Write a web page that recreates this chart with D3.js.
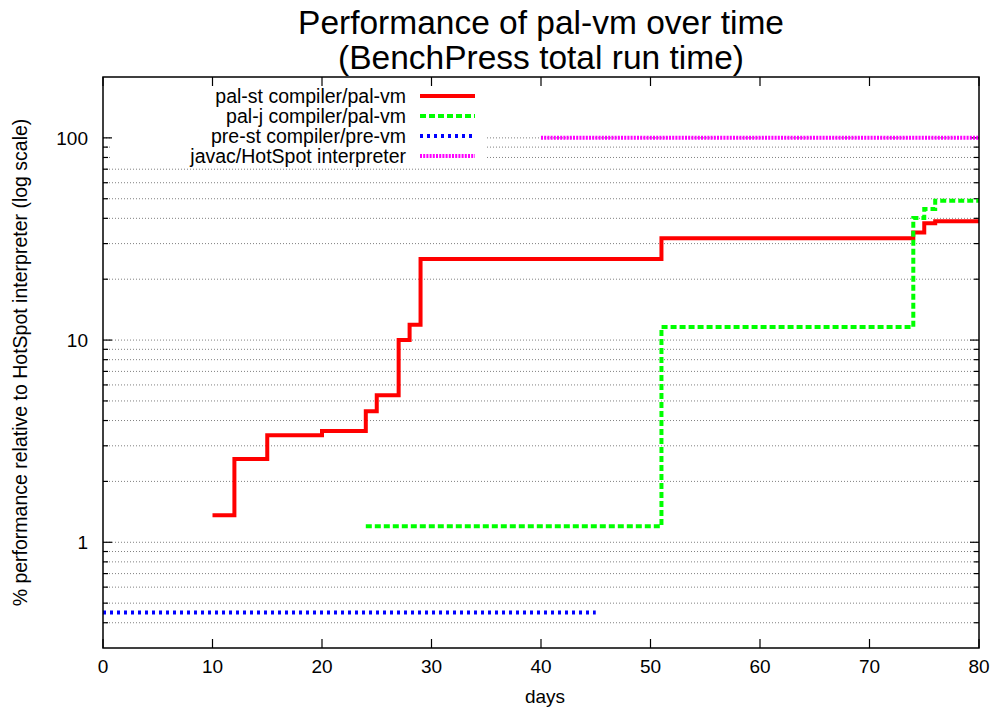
<!DOCTYPE html>
<html>
  <head>
    <meta charset="utf-8" />
    <title>Performance of pal-vm over time</title>
    <script src="https://d3js.org/d3.v7.min.js"></script>
    <style>
        body{
            margin: 0;
            background: #fff;
        }
        text{
            font-family: "Liberation Sans", Arial, sans-serif;
            fill: #000;
        }
    </style>
  </head>
  <body>
    <svg id="vis"></svg>

    <script>
        // data (days, % of HotSpot interpreter)
        var palStDays = [10, 12, 15, 20, 24, 25, 27, 28, 29, 51, 74, 75, 76, 80];
        var palStPerf = [1.36, 2.58, 3.38, 3.55, 4.45, 5.34, 10.0, 11.9, 25.2, 31.9, 34.0, 37.8, 38.7, 38.7];

        var palJDays = [24, 51, 74, 75, 76, 80];
        var palJPerf = [1.2, 11.6, 40.2, 44.5, 48.9, 48.9];

        var preStDays = [0, 45];
        var preStPerf = [0.45, 0.45];

        var javacDays = [40, 80];
        var javacPerf = [100, 100];

        var xTicks = [0, 10, 20, 30, 40, 50, 60, 70, 80];
        var yMajor = [1, 10, 100];
        var yMinor = [0.4, 0.5, 0.6, 0.7, 0.8, 0.9, 2, 3, 4, 5, 6, 7, 8, 9,
                      20, 30, 40, 50, 60, 70, 80, 90];

        var width = 995, height = 711;
        // plot box (window.top is reserved, so prefix the names)
        var pLeft = 103, pRight = 979, pTop = 77, pBottom = 648;

        var svg = d3.select("#vis").attr("width", width).attr("height", height);

        var x = d3.scaleLinear().domain([0, 80]).range([pLeft, pRight]);
        var y = d3.scaleLog().domain([0.3, 200]).range([pBottom, pTop]);

        // grid
        var grid = svg.append("g");
        grid.selectAll("line").data(yMajor.concat(yMinor)).enter().append("line")
            .attr("x1", pLeft).attr("x2", pRight)
            .attr("y1", function(d){ return y(d); })
            .attr("y2", function(d){ return y(d); })
            .attr("stroke", "#808080")
            .attr("stroke-width", 1)
            .attr("stroke-dasharray", "1,2");

        // key background hides the grid behind it
        svg.append("rect")
            .attr("x", 110).attr("y", 84).attr("width", 376).attr("height", 82)
            .attr("fill", "#fff");

        // ticks on all four sides
        var ticks = svg.append("g").attr("stroke", "#000").attr("stroke-width", 1.2);
        yMajor.forEach(function(v){
            ticks.append("line").attr("x1", pLeft).attr("x2", pLeft + 9).attr("y1", y(v)).attr("y2", y(v));
            ticks.append("line").attr("x1", pRight).attr("x2", pRight - 9).attr("y1", y(v)).attr("y2", y(v));
        });
        yMinor.forEach(function(v){
            ticks.append("line").attr("x1", pLeft).attr("x2", pLeft + 5).attr("y1", y(v)).attr("y2", y(v));
            ticks.append("line").attr("x1", pRight).attr("x2", pRight - 5).attr("y1", y(v)).attr("y2", y(v));
        });
        xTicks.forEach(function(v){
            ticks.append("line").attr("x1", x(v)).attr("x2", x(v)).attr("y1", pBottom).attr("y2", pBottom - 9);
            ticks.append("line").attr("x1", x(v)).attr("x2", x(v)).attr("y1", pTop).attr("y2", pTop + 9);
        });

        // tick labels
        svg.append("g").selectAll("text").data(xTicks).enter().append("text")
            .attr("x", function(d){ return x(d); })
            .attr("y", 673)
            .attr("text-anchor", "middle")
            .attr("font-size", 19)
            .text(function(d){ return d; });

        svg.append("g").selectAll("text").data(yMajor).enter().append("text")
            .attr("x", 88)
            .attr("y", function(d){ return y(d) + 7; })
            .attr("text-anchor", "end")
            .attr("font-size", 19)
            .text(function(d){ return d; });

        // axis titles
        svg.append("text").attr("x", 545).attr("y", 703)
            .attr("text-anchor", "middle").attr("font-size", 19).text("days");
        svg.append("text")
            .attr("transform", "translate(27," + ((pTop + pBottom) / 2) + ") rotate(-90)")
            .attr("text-anchor", "middle").attr("font-size", 19.5)
            .text("% performance relative to HotSpot interpreter (log scale)");

        // title
        svg.append("text").attr("x", 541).attr("y", 34)
            .attr("text-anchor", "middle").attr("font-size", 33.5)
            .text("Performance of pal-vm over time");
        svg.append("text").attr("x", 541).attr("y", 69)
            .attr("text-anchor", "middle").attr("font-size", 33.5)
            .text("(BenchPress total run time)");

        // series
        var series = [
            {name: "pal-st compiler/pal-vm", days: palStDays, perf: palStPerf, color: "#ff0000", dash: null},
            {name: "pal-j compiler/pal-vm", days: palJDays, perf: palJPerf, color: "#00ff00", dash: "6,3"},
            {name: "pre-st compiler/pre-vm", days: preStDays, perf: preStPerf, color: "#0000ff", dash: "3,4"},
            {name: "javac/HotSpot interpreter", days: javacDays, perf: javacPerf, color: "#ff00ff", dash: "2,1.2"}
        ];

        var line = d3.line()
            .x(function(d){ return x(d[0]); })
            .y(function(d){ return y(d[1]); })
            .curve(d3.curveStepAfter);

        var plot = svg.append("g");
        series.forEach(function(s){
            var pts = s.days.map(function(d, i){ return [d, s.perf[i]]; });
            plot.append("path")
                .attr("d", line(pts))
                .attr("fill", "none")
                .attr("stroke", s.color)
                .attr("stroke-width", 4)
                .attr("stroke-dasharray", s.dash);
        });

        // key
        var key = svg.append("g");
        series.forEach(function(s, i){
            var ky = 96 + i * 20;
            key.append("text").attr("x", 406).attr("y", ky + 7)
                .attr("text-anchor", "end").attr("font-size", 19.5).text(s.name);
            key.append("line").attr("x1", 420).attr("x2", 475).attr("y1", ky).attr("y2", ky)
                .attr("stroke", s.color).attr("stroke-width", 4)
                .attr("stroke-dasharray", s.dash);
        });

        // border
        svg.append("rect")
            .attr("x", pLeft).attr("y", pTop)
            .attr("width", pRight - pLeft).attr("height", pBottom - pTop)
            .attr("fill", "none").attr("stroke", "#000").attr("stroke-width", 1.5);
    </script>
  </body>
</html>
